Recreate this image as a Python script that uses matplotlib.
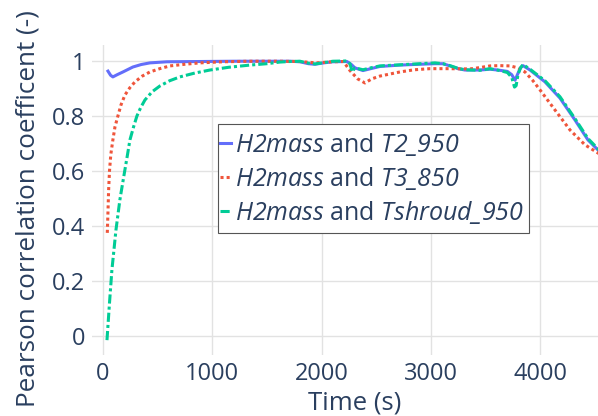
import matplotlib.pyplot as plt
from matplotlib.patches import Rectangle
from matplotlib.transforms import IdentityTransform
from matplotlib.ticker import MultipleLocator

plt.rcParams['font.family'] = ['Open Sans', 'DejaVu Sans']
plt.rcParams['mathtext.fontset'] = 'custom'
# italic for everything inside $...$, digits included
plt.rcParams['mathtext.rm'] = 'Open Sans:italic'
plt.rcParams['mathtext.it'] = 'Open Sans:italic'

# Pearson coefficient of H2 mass against each thermocouple, over time
t_T2 = [46, 70, 91, 130, 183, 274, 350, 430, 585, 900, 1200, 1500, 1711, 1802, 1880, 1940,
        2020, 2104, 2232, 2270, 2305, 2379, 2450, 2534, 2717, 2900, 3037, 3110, 3175, 3250,
        3312, 3449, 3541, 3632, 3700, 3740, 3770, 3797, 3820, 3843, 3907, 4044, 4181, 4319,
        4437, 4530, 4570]
r_T2 = [0.963, 0.948, 0.942, 0.950, 0.960, 0.978, 0.987, 0.993, 0.997, 0.998, 0.999, 0.999,
        0.999, 0.997, 0.990, 0.988, 0.993, 0.997, 0.998, 0.988, 0.975, 0.965, 0.972, 0.980,
        0.985, 0.988, 0.990, 0.990, 0.982, 0.972, 0.967, 0.967, 0.970, 0.966, 0.962, 0.950,
        0.930, 0.955, 0.975, 0.983, 0.967, 0.924, 0.865, 0.785, 0.713, 0.676, 0.662]

t_T3 = [40, 46, 52, 60, 72, 91, 110, 137, 165, 201, 245, 293, 360, 430, 520, 613, 750, 887,
        1100, 1345, 1600, 1800, 1950, 2100, 2200, 2260, 2330, 2397, 2460, 2534, 2717, 2850,
        2992, 3150, 3358, 3450, 3541, 3630, 3724, 3797, 3861, 3930, 3998, 4135, 4273, 4410,
        4530, 4570]
r_T3 = [0.375, 0.45, 0.53, 0.60, 0.66, 0.713, 0.76, 0.80, 0.84, 0.876, 0.902, 0.924, 0.945,
        0.960, 0.972, 0.982, 0.988, 0.993, 0.997, 0.999, 0.999, 0.998, 0.993, 0.997, 0.998,
        0.965, 0.935, 0.920, 0.935, 0.945, 0.960, 0.968, 0.972, 0.972, 0.971, 0.976, 0.982,
        0.983, 0.982, 0.975, 0.960, 0.930, 0.895, 0.822, 0.749, 0.695, 0.665, 0.655]

t_Tsh = [37, 60, 82, 100, 119, 137, 155, 178, 201, 225, 247, 280, 311, 345, 384, 450, 521,
         610, 704, 840, 979, 1150, 1345, 1500, 1619, 1711, 1802, 1880, 1940, 2020, 2104, 2232,
         2260, 2280, 2305, 2379, 2450, 2534, 2717, 2900, 3037, 3110, 3175, 3250, 3312, 3449,
         3541, 3632, 3700, 3740, 3765, 3780, 3797, 3820, 3843, 3907, 4044, 4181, 4319, 4437,
         4530, 4570]
r_Tsh = [-0.015, 0.12, 0.24, 0.31, 0.385, 0.44, 0.495, 0.55, 0.604, 0.66, 0.713, 0.76, 0.80,
         0.83, 0.858, 0.888, 0.909, 0.928, 0.942, 0.956, 0.967, 0.977, 0.985, 0.990, 0.996,
         0.998, 0.999, 0.992, 0.989, 0.994, 0.999, 1.0, 0.990, 0.960, 0.975, 0.968, 0.975,
         0.982, 0.986, 0.990, 0.993, 0.990, 0.983, 0.973, 0.968, 0.966, 0.972, 0.965, 0.958,
         0.940, 0.905, 0.910, 0.950, 0.975, 0.987, 0.970, 0.928, 0.870, 0.790, 0.718, 0.680,
         0.666]

labels = [r'$H2mass$ and $T2\_950$',
          r'$H2mass$ and $T3\_850$',
          r'$H2mass$ and $Tshroud\_950$']

txt = '#2a3f5f'
fig = plt.figure(figsize=(5.98, 4.16), dpi=100)
# plot area runs a little past the right edge of the image
ax = fig.add_axes([92 / 598, 61 / 416, 526 / 598, 310 / 416])

lw = 2.2
ax.plot(t_T2, r_T2, color='#636efa', lw=lw, label=labels[0])
ax.plot(t_T3, r_T3, color='#ef553b', lw=lw, ls=(0, (1, 1)), label=labels[1])
ax.plot(t_Tsh, r_Tsh, color='#00cc96', lw=lw, ls=(0, (3, 1, 1, 1)), label=labels[2])

ax.set_xlim(-100, 4712)
ax.set_ylim(-0.069, 1.058)
ax.xaxis.set_major_locator(MultipleLocator(1000))
ax.yaxis.set_major_locator(MultipleLocator(0.2))
ax.yaxis.set_major_formatter(plt.FuncFormatter(lambda v, p: '%g' % round(v, 1)))
ax.grid(True, color='#e2e2e2', lw=1)
ax.set_axisbelow(True)
for s in ax.spines.values():
    s.set_visible(False)
ax.tick_params(length=0, labelsize=17, labelcolor=txt, pad=5)

ax.set_xlabel('Time (s)', fontsize=18.5, color=txt, labelpad=3)
ax.set_ylabel('Pearson correlation coefficent (-)', fontsize=18.8, color=txt, labelpad=8)
ax.yaxis.label.set_y(0.471)

leg = ax.legend(loc='upper left', bbox_to_anchor=(0.2433, 0.7226), borderaxespad=0,
                fontsize=18, handlelength=0.45, handletextpad=0.16, labelspacing=0.28,
                borderpad=0, frameon=False)
leg.set_zorder(6)
for t in leg.get_texts():
    t.set_color(txt)

# legend border with more room above and below than at the sides
fig.canvas.draw()
bb = leg.get_window_extent()
box = Rectangle((bb.x0 - 2, bb.y0 - 7), bb.width + 7, bb.height + 14,
                transform=IdentityTransform(), facecolor='white', edgecolor='#555555',
                lw=0.8, zorder=5)
ax.add_patch(box)

fig.savefig('out.png', dpi=100)
